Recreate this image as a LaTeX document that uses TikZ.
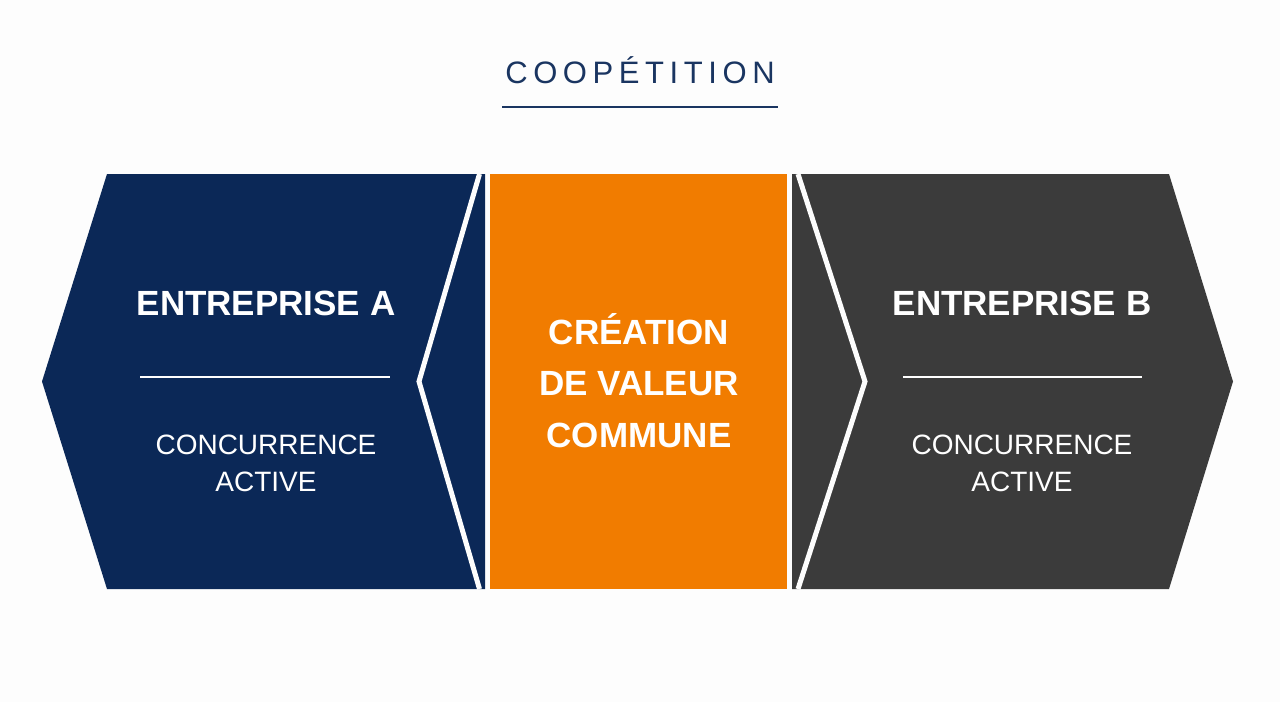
\documentclass[tikz,border=0pt]{standalone}
\usepackage{fontspec}
\setmainfont{Liberation Sans}
\definecolor{pagebg}{RGB}{253,253,253}
\definecolor{navy}{RGB}{11,40,87}
\definecolor{titlenavy}{RGB}{26,53,97}
\definecolor{coopOrange}{RGB}{241,124,0}
\definecolor{charcoal}{RGB}{59,59,59}
\tikzstyle{titletext} = [text=titlenavy, font=\fontsize{31}{36}\selectfont\addfontfeature{LetterSpace=18}, inner sep=0, anchor=base]
\tikzstyle{titlerule} = [titlenavy, line width=2pt]
\tikzstyle{heading} = [text=white, font=\bfseries\fontsize{35}{51.5}\selectfont, inner sep=0]
\tikzstyle{subtext} = [text=white, font=\fontsize{28}{37}\selectfont, align=center, inner sep=0, anchor=south]
\tikzstyle{divider} = [white, line width=2pt]
\tikzstyle{notch} = [pagebg, line width=5pt, line join=miter]

\begin{document}
\begin{tikzpicture}[x=1pt, y=-1pt]

    \fill [pagebg] (0,0) rectangle (1280,702);

    \node (title) [titletext] at (640,83) {COOPÉTITION};
    \draw [titlerule] (502,107) -- (778,107);

    \fill [navy] (107,174) -- (485,174) -- (485,589) -- (107,589) -- (42,381.5) -- cycle;
    \fill [coopOrange] (490,174) rectangle (787,589);
    \fill [charcoal] (792,174) -- (1169,174) -- (1233,381.5) -- (1169,589) -- (792,589) -- cycle;

    \draw [notch] (479.5,174) -- (419,381.5) -- (479.5,589);
    \draw [notch] (798,174) -- (865,381.5) -- (798,589);

    \node (firmA) [heading, anchor=base] at (266,315) {ENTREPRISE A};
    \draw [divider] (140,377) -- (390,377);
    \node (rivalA) [subtext] at (266,492) {CONCURRENCE\\ACTIVE};

    \node (shared) [heading, align=center, anchor=south] at (639,448) {CRÉATION\\DE VALEUR\\COMMUNE};

    \node (firmB) [heading, anchor=base] at (1022,315) {ENTREPRISE B};
    \draw [divider] (903,377) -- (1142,377);
    \node (rivalB) [subtext] at (1022,492) {CONCURRENCE\\ACTIVE};

    \end{tikzpicture}
\end{document}
